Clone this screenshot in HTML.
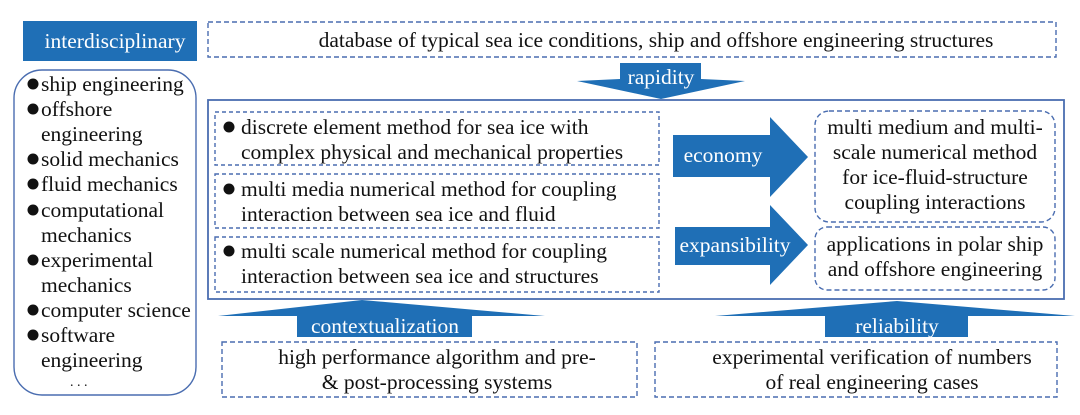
<!DOCTYPE html>
<html><head><meta charset="utf-8"><style>
body{margin:0;background:#fff}
svg text{font-family:"Liberation Serif",serif;font-size:21.5px;fill:#111}
.w{fill:#fff}
</style></head><body>
<svg width="1080" height="410" viewBox="0 0 1080 410" xmlns="http://www.w3.org/2000/svg">
<g fill="none" stroke="#4a6db0" stroke-width="1.4">
<rect x="208" y="22" width="848" height="35" stroke-dasharray="5,3"/>
<rect x="14" y="70" width="182" height="325" rx="28"/>
<rect x="208" y="100" width="856" height="199" stroke-width="1.8"/>
<rect x="215" y="112" width="444" height="53" stroke-dasharray="4,3"/>
<rect x="215" y="174" width="444" height="54" stroke-dasharray="4,3"/>
<rect x="215" y="237" width="444" height="55" stroke-dasharray="4,3"/>
<rect x="815" y="111" width="240" height="111" rx="14" stroke-dasharray="5,3"/>
<rect x="815" y="227" width="240" height="63" rx="12" stroke-dasharray="5,3"/>
<rect x="222" y="342" width="415" height="55" stroke-dasharray="5,3"/>
<rect x="655" y="342" width="402" height="55" stroke-dasharray="5,3"/>
</g>
<g fill="#1f6fb6">
<rect x="23" y="21" width="174" height="40"/>
<polygon points="620,63 701,63 701,79 745,81 661,99 577,81 620,79"/>
<polygon points="673,135 770,135 770,117 808,157 770,197 770,177 673,177"/>
<polygon points="675,227 770,227 770,205 808,245 770,285 770,265 675,265"/>
<polygon points="362,300 545,316 472,316 472,337 297,337 297,316 218,316"/>
<polygon points="897,301 1075,316 968,316 968,337 825,337 825,316 715,316"/>
</g>
<text class="w" x="115" y="48" text-anchor="middle">interdisciplinary</text>
<text x="656" y="47" text-anchor="middle">database of typical sea ice conditions, ship and offshore engineering structures</text>
<text class="w" x="661" y="84" text-anchor="middle">rapidity</text>
<text class="w" x="723" y="162" text-anchor="middle">economy</text>
<text class="w" x="735" y="252" text-anchor="middle">expansibility</text>
<text class="w" x="385" y="333" text-anchor="middle">contextualization</text>
<text class="w" x="897" y="333" text-anchor="middle">reliability</text>
<g>
<text x="41" y="91">ship engineering</text>
<text x="41" y="116">offshore</text>
<text x="41" y="141">engineering</text>
<text x="41" y="166">solid mechanics</text>
<text x="41" y="191">fluid mechanics</text>
<text x="41" y="217">computational</text>
<text x="41" y="242">mechanics</text>
<text x="41" y="267">experimental</text>
<text x="41" y="292">mechanics</text>
<text x="41" y="317">computer science</text>
<text x="41" y="342">software</text>
<text x="41" y="367">engineering</text>
<text x="70" y="386" style="font-size:14px">. . .</text>
</g>
<g fill="#111">
<circle cx="33" cy="84" r="5.5"/><circle cx="33" cy="109" r="5.5"/><circle cx="33" cy="159" r="5.5"/><circle cx="33" cy="184" r="5.5"/><circle cx="33" cy="210" r="5.5"/><circle cx="33" cy="260" r="5.5"/><circle cx="33" cy="310" r="5.5"/><circle cx="33" cy="335" r="5.5"/>
<circle cx="229" cy="127" r="5.5"/><circle cx="229" cy="189" r="5.5"/><circle cx="229" cy="251" r="5.5"/>
</g>
<text x="241" y="134">discrete element method for sea ice with</text>
<text x="241" y="159">complex physical and mechanical properties</text>
<text x="241" y="196">multi media numerical method for coupling</text>
<text x="241" y="221">interaction between sea ice and fluid</text>
<text x="241" y="258">multi scale numerical method for coupling</text>
<text x="241" y="283">interaction between sea ice and structures</text>
<g text-anchor="middle">
<text x="935" y="134">multi medium and multi-</text>
<text x="935" y="159">scale numerical method</text>
<text x="935" y="184">for ice-fluid-structure</text>
<text x="935" y="209">coupling interactions</text>
<text x="935" y="251">applications in polar ship</text>
<text x="935" y="276">and offshore engineering</text>
<text x="437" y="364">high performance algorithm and pre-</text>
<text x="437" y="389">&amp; post-processing systems</text>
<text x="872" y="364">experimental verification of numbers</text>
<text x="872" y="389">of real engineering cases</text>
</g>
</svg>
</body></html>
